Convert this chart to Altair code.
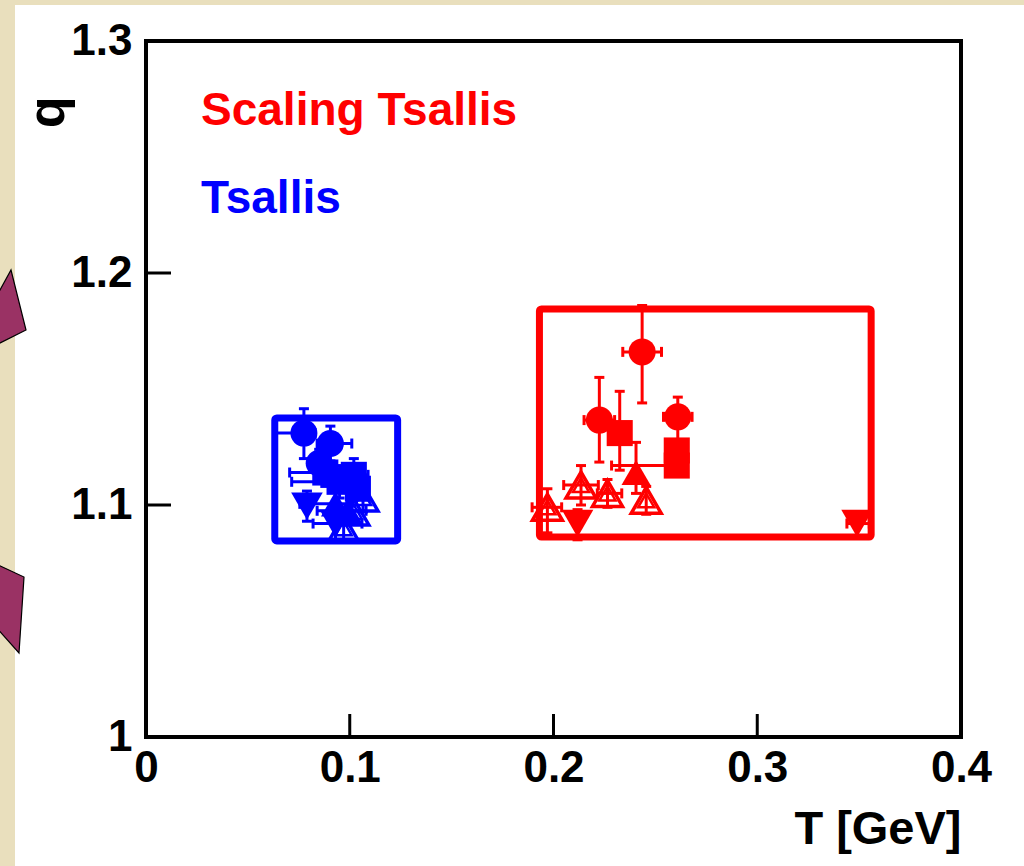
import altair as alt
import pandas as pd

# Axis tick positions
T_TICKS = [0.0, 0.1, 0.2, 0.3, 0.4]
Q_TICKS = [1.0, 1.1, 1.2, 1.3]
T_INNER_TICKS = [0.1, 0.2, 0.3]
Q_INNER_TICKS = [1.1, 1.2]

GROUPS = ["Scaling Tsallis", "Tsallis"]

# Scaling Tsallis fits: temperature T [GeV], q and their error ranges
scal_marker = ["circle", "circle", "circle", "square", "square", "square",
               "triangle-up", "open-triangle", "open-triangle", "open-triangle",
               "open-triangle", "triangle-down", "triangle-down"]
scal_T = [0.2225, 0.2435, 0.2610, 0.2325, 0.2605, 0.2605,
          0.2405, 0.2455, 0.2265, 0.2135, 0.1970, 0.2118, 0.3490]
scal_q = [1.1366, 1.1660, 1.1380, 1.1310, 1.1235, 1.1170,
          1.1140, 1.1020, 1.1050, 1.1086, 1.0990, 1.0920, 1.0920]
scal_T_lo = [0.2150, 0.2340, 0.2540, 0.2325, 0.2605, 0.2285,
             0.2405, 0.2455, 0.2215, 0.2050, 0.1895, 0.2118, 0.3440]
scal_T_hi = [0.2300, 0.2530, 0.2680, 0.2325, 0.2605, 0.2605,
             0.2405, 0.2455, 0.2335, 0.2220, 0.2040, 0.2118, 0.3550]
scal_q_lo = [1.1185, 1.1440, 1.1270, 1.1150, 1.1235, 1.1170,
             1.1050, 1.0960, 1.0990, 1.1000, 1.0880, 1.0850, 1.0920]
scal_q_hi = [1.1550, 1.1860, 1.1465, 1.1490, 1.1235, 1.1170,
             1.1270, 1.1080, 1.1110, 1.1170, 1.1070, 1.0980, 1.0920]

# Tsallis fits
tsal_marker = ["circle", "circle", "circle", "square", "square", "square", "square",
               "triangle-up", "triangle-up", "triangle-down", "triangle-down",
               "open-triangle", "open-triangle", "open-triangle"]
tsal_T = [0.0775, 0.0905, 0.0850, 0.0880, 0.0950, 0.1020, 0.1040,
          0.0930, 0.0990, 0.0790, 0.0930, 0.1065, 0.1020, 0.0970]
tsal_q = [1.1310, 1.1265, 1.1180, 1.1140, 1.1100, 1.1130, 1.1070,
          1.1005, 1.0975, 1.0995, 1.0920, 1.1030, 1.0970, 1.0900]
tsal_T_lo = [0.0640, 0.0840, 0.0800, 0.0705, 0.0715, 0.0960, 0.0990,
             0.0755, 0.0840, 0.0790, 0.0820, 0.1065, 0.1020, 0.0970]
tsal_T_hi = [0.0830, 0.1010, 0.0900, 0.0950, 0.1020, 0.1090, 0.1080,
             0.1000, 0.1080, 0.0790, 0.1060, 0.1065, 0.1020, 0.0970]
tsal_q_lo = [1.1200, 1.1190, 1.1120, 1.1080, 1.1030, 1.1060, 1.1070,
             1.0930, 1.0975, 1.0930, 1.0845, 1.0970, 1.0970, 1.0840]
tsal_q_hi = [1.1415, 1.1340, 1.1240, 1.1200, 1.1170, 1.1200, 1.1070,
             1.1080, 1.0975, 1.1060, 1.0990, 1.1090, 1.0970, 1.0960]

# Boxes enclosing each family of fits: [T_min, T_max, q_min, q_max]
box_group = ["Scaling Tsallis", "Tsallis"]
box_T_min = [0.1931, 0.0632]
box_T_max = [0.3559, 0.1235]
box_q_min = [1.0862, 1.0845]
box_q_max = [1.1845, 1.1375]

W, H = 815, 696
PAD_L, PAD_T = 146, 41
FONT = "Liberation Sans"
BEIGE = "#e9dfbd"

pts = pd.concat([
    pd.DataFrame({"group": GROUPS[0], "marker": scal_marker, "T": scal_T, "q": scal_q,
                  "T_lo": scal_T_lo, "T_hi": scal_T_hi, "q_lo": scal_q_lo, "q_hi": scal_q_hi}),
    pd.DataFrame({"group": GROUPS[1], "marker": tsal_marker, "T": tsal_T, "q": tsal_q,
                  "T_lo": tsal_T_lo, "T_hi": tsal_T_hi, "q_lo": tsal_q_lo, "q_hi": tsal_q_hi}),
], ignore_index=True)

boxes = pd.DataFrame({"group": box_group, "T0": box_T_min, "T1": box_T_max,
                      "q0": box_q_min, "q1": box_q_max})

xs = alt.Scale(domain=[0, 0.4], nice=False, zero=False)
ys = alt.Scale(domain=[1.0, 1.3], nice=False, zero=False)
cs = alt.Scale(domain=GROUPS, range=["#ff0000", "#0000ff"])

x_axis = alt.Axis(values=T_TICKS, format="~g", ticks=False, tickSize=0, domain=False,
                  grid=False, labelFont=FONT, labelFontWeight="bold", labelFontSize=44,
                  labelColor="black", labelPadding=9, labelFlush=False, labelOverlap=False,
                  labelBound=False, zindex=2,
                  title="T [GeV]", titleFont=FONT, titleFontWeight="bold", titleFontSize=47,
                  titleColor="black", titleAlign="right", titleBaseline="alphabetic",
                  titleX=W, titleY=106)
y_axis = alt.Axis(values=Q_TICKS, format="~g", ticks=False, tickSize=0, domain=False,
                  grid=False, labelFont=FONT, labelFontWeight="bold", labelFontSize=44,
                  labelColor="black", labelPadding=14, labelFlush=False, labelOverlap=False,
                  labelBound=False, zindex=2,
                  title="q", titleFont=FONT, titleFontWeight="bold", titleFontSize=52,
                  titleColor="black", titleAngle=270, titleAlign="right",
                  titleBaseline="alphabetic", titleX=-83, titleY=55)

X = lambda f: alt.X(f, type="quantitative", scale=xs, axis=x_axis)
Y = lambda f: alt.Y(f, type="quantitative", scale=ys, axis=y_axis)
C = alt.Color("group:N", scale=cs, legend=None)

one = pd.DataFrame({"k": [0]})

# beige page margins on the left and top, with decorative arrows at the left edge
strip_left = alt.Chart(one).mark_rect(color=BEIGE).encode(
    x=alt.value(-PAD_L), x2=alt.value(15 - PAD_L),
    y=alt.value(-PAD_T), y2=alt.value(866 - PAD_T))
strip_top = alt.Chart(one).mark_rect(color=BEIGE).encode(
    x=alt.value(-PAD_L), x2=alt.value(1024 - PAD_L),
    y=alt.value(-PAD_T), y2=alt.value(5 - PAD_T))

arrow_paths = ["M -6 301 L 11 270 L 26 330 L -6 346 Z",
               "M -6 563 L 24 577 L 19 653 L -6 625 Z"]
arrows = [
    alt.Chart(one).mark_point(shape=p, size=4, filled=True, fill="#9a3264",
                              stroke="black", strokeWidth=1.2, opacity=1).encode(
        x=alt.value(-PAD_L), y=alt.value(-PAD_T))
    for p in arrow_paths
]

box_layer = alt.Chart(boxes).mark_rect(filled=False, strokeWidth=7, cornerRadius=2,
                                       strokeJoin="round").encode(
    x=X("T0"), x2="T1", y=Y("q0"), y2="q1", stroke=alt.Stroke("group:N", scale=cs, legend=None))

# error bars with end caps
xerr = pts[pts.T_hi > pts.T_lo]
yerr = pts[pts.q_hi > pts.q_lo]
xcaps = pd.concat([xerr.assign(T=xerr.T_lo), xerr.assign(T=xerr.T_hi)])
ycaps = pd.concat([yerr.assign(q=yerr.q_lo), yerr.assign(q=yerr.q_hi)])

xerr_layer = alt.Chart(xerr).mark_rule(strokeWidth=3).encode(x=X("T_lo"), x2="T_hi", y=Y("q"), color=C)
yerr_layer = alt.Chart(yerr).mark_rule(strokeWidth=3).encode(x=X("T"), y=Y("q_lo"), y2="q_hi", color=C)
xcap_layer = alt.Chart(xcaps).mark_tick(orient="vertical", size=10, thickness=3, opacity=1).encode(
    x=X("T"), y=Y("q"), color=C)
ycap_layer = alt.Chart(ycaps).mark_tick(orient="horizontal", size=10, thickness=3, opacity=1).encode(
    x=X("T"), y=Y("q"), color=C)


def markers(kind, shape, size, filled, sw=0):
    sub = pts[pts.marker == kind]
    return alt.Chart(sub).mark_point(shape=shape, size=size, filled=filled, opacity=1,
                                     strokeWidth=sw).encode(x=X("T"), y=Y("q"), color=C)


# open triangles are drawn with a doubled outline (outer and inner stroke)
marker_layers = [
    markers("circle", "circle", 729, True),
    markers("square", "square", 680, True),
    markers("triangle-up", "triangle-up", 841, True),
    markers("triangle-down", "triangle-down", 1000, True),
    markers("open-triangle", "triangle-up", 900, False, 3.5),
    markers("open-triangle", "triangle-up", 260, False, 2.5),
]

# inward ticks and the frame around the plot
xt = pd.DataFrame({"T": T_INNER_TICKS})
yt = pd.DataFrame({"q": Q_INNER_TICKS})
xtick_layer = alt.Chart(xt).mark_rule(color="black", strokeWidth=3).encode(
    x=X("T"), y=alt.value(H), y2=alt.value(H - 23))
ytick_layer = alt.Chart(yt).mark_rule(color="black", strokeWidth=3).encode(
    y=Y("q"), x=alt.value(0), x2=alt.value(25))
frame = alt.Chart(one).mark_rect(filled=False, stroke="black", strokeWidth=4).encode(
    x=alt.value(0), x2=alt.value(W), y=alt.value(0), y2=alt.value(H))

legend_y = [84, 172]
legend_layers = [
    alt.Chart(pd.DataFrame({"label": [g]})).mark_text(
        font=FONT, fontWeight="bold", fontSize=46, align="left", baseline="alphabetic",
        color=col).encode(x=alt.value(55), y=alt.value(yy), text="label:N")
    for g, col, yy in zip(GROUPS, ["#ff0000", "#0000ff"], legend_y)
]

chart = alt.layer(
    strip_left, strip_top, *arrows, box_layer, xerr_layer, yerr_layer, xcap_layer, ycap_layer,
    *marker_layers, xtick_layer, ytick_layer, frame, *legend_layers
).properties(
    width=W, height=H,
    autosize=alt.AutoSizeParams(type="none"),
    padding={"left": PAD_L, "top": PAD_T, "right": 1024 - PAD_L - W, "bottom": 866 - PAD_T - H},
    background="white",
).configure_view(strokeWidth=0)

chart.save("out.html", embed_options={"renderer": "svg", "actions": False})
